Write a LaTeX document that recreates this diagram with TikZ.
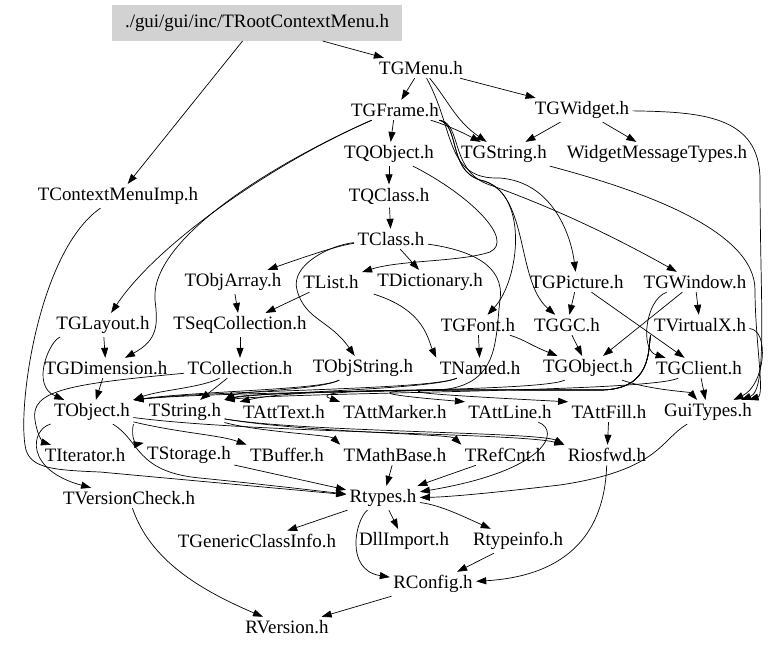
\documentclass[tikz,border=0pt]{standalone}
\usepackage{fontspec}
\setmainfont{Liberation Serif}
\usetikzlibrary{arrows.meta}
\begin{document}
\begin{tikzpicture}[x=1bp,y=1bp,
    every node/.style={font=\fontsize{19}{22}\selectfont, inner sep=2bp, outer sep=1.5bp},
    dep/.style={-{Triangle[length=10bp,width=7bp]}, line width=0.7bp},
    rootbox/.style={fill=gray!35, minimum width=289bp, minimum height=36bp, outer sep=0bp}]
  \useasboundingbox (0,0) rectangle (779,-649);
  \draw
    (257,-23) node[rootbox] (root){./gui/gui/inc/TRootContextMenu.h}
    (421,-68) node (menu){TGMenu.h}
    (395,-110) node (frame){TGFrame.h}
    (582,-110) node (widget){TGWidget.h}
    (389,-154) node (qobject){TQObject.h}
    (504,-154) node (gstring){TGString.h}
    (657,-154) node (wmt){WidgetMessageTypes.h}
    (118,-196) node (cmimp){TContextMenuImp.h}
    (389,-196) node (qclass){TQClass.h}
    (391,-239) node (tclass){TClass.h}
    (233,-282) node (objarray){TObjArray.h}
    (331,-282) node (tlist){TList.h}
    (430,-282) node (dict){TDictionary.h}
    (577,-282) node (gpicture){TGPicture.h}
    (695,-282) node (gwindow){TGWindow.h}
    (103,-325) node (glayout){TGLayout.h}
    (240,-325) node (seqcoll){TSeqCollection.h}
    (478,-325) node (gfont){TGFont.h}
    (567,-325) node (ggc){TGGC.h}
    (700,-325) node (vx){TVirtualX.h}
    (106,-368) node (gdim){TGDimension.h}
    (240,-368) node (coll){TCollection.h}
    (363,-368) node (objstring){TObjString.h}
    (480,-368) node (named){TNamed.h}
    (588,-368) node (gobject){TGObject.h}
    (699,-368) node (gclient){TGClient.h}
    (92,-412) node (tobject){TObject.h}
    (185,-412) node (tstring){TString.h}
    (284,-412) node (atttext){TAttText.h}
    (395,-412) node (attmarker){TAttMarker.h}
    (510,-412) node (attline){TAttLine.h}
    (609,-412) node (attfill){TAttFill.h}
    (708,-412) node (guitypes){GuiTypes.h}
    (85,-455) node (iter){TIterator.h}
    (189,-455) node (storage){TStorage.h}
    (287,-455) node (buffer){TBuffer.h}
    (395,-455) node (mathbase){TMathBase.h}
    (505,-455) node (refcnt){TRefCnt.h}
    (607,-455) node (riosfwd){Riosfwd.h}
    (129,-498) node (vcheck){TVersionCheck.h}
    (383,-498) node (rtypes){Rtypes.h}
    (257,-541) node (gci){TGenericClassInfo.h}
    (404,-541) node (dllimport){DllImport.h}
    (518,-541) node (rtypeinfo){Rtypeinfo.h}
    (433,-584) node (rconfig){RConfig.h}
    (287,-627) node (rversion){RVersion.h};
  \begin{scope}[dep]
    \draw (root) to (menu);
    \draw (root) to (cmimp);
    \draw (menu) to (frame);
    \draw (menu) to (widget);
    \draw (menu) .. controls (448,-100) and (455,-120) .. (gstring);
    \draw (menu) .. controls (455,-130) and (445,-180) .. (500,-178) .. controls (550,-182) and (570,-230) .. (gpicture);
    \draw (frame) .. controls (430,-120) and (448,-125) .. (gstring);
    \draw (frame) to (qobject);
    \draw (frame) .. controls (280,-160) and (160,-240) .. (glayout);
    \draw (frame) .. controls (270,-165) and (150,-240) .. (155,-300) .. controls (158,-325) and (158,-340) .. (gdim);
    \draw (frame) .. controls (460,-125) and (448,-170) .. (480,-180) .. controls (530,-190) and (520,-280) .. (gfont);
    \draw (frame) .. controls (460,-125) and (448,-170) .. (480,-180) .. controls (530,-190) and (515,-280) .. (ggc);
    \draw (frame) .. controls (462,-125) and (450,-172) .. (490,-185) .. controls (560,-210) and (620,-240) .. (gwindow);
    \draw (widget) to (gstring);
    \draw (widget) to (wmt);
    \draw (widget) .. controls (700,-112) and (760,-115) .. (760,-180) .. controls (760,-300) and (768,-390) .. (guitypes);
    \draw (gstring) .. controls (640,-190) and (755,-230) .. (755,-290) .. controls (755,-340) and (765,-395) .. (guitypes);
    \draw (qobject) to (qclass);
    \draw (qobject) .. controls (470,-195) and (515,-240) .. (490,-252) .. controls (460,-262) and (400,-260) .. (tlist);
    \draw (qclass) to (tclass);
    \draw (tclass) .. controls (340,-245) and (310,-255) .. (objarray);
    \draw (tclass) .. controls (330,-245) and (290,-265) .. (297,-290) .. controls (305,-320) and (330,-320) .. (objstring);
    \draw (tclass) to (dict);
    \draw (tclass) .. controls (470,-250) and (505,-265) .. (500,-300) .. controls (495,-340) and (500,-385) .. (440,-390) .. controls (350,-392) and (250,-393) .. (tstring.north east);
    \draw (objarray) to (seqcoll);
    \draw (tlist) to (seqcoll);
    \draw (seqcoll) to (coll);
    \draw (dict.south west) .. controls (425,-310) and (428,-340) .. (named.north west);
    \draw (gpicture) to (ggc);
    \draw (gpicture) to (gclient);
    \draw (gwindow) to (vx);
    \draw (gwindow) to (gobject);
    \draw (gwindow) .. controls (645,-300) and (640,-350) .. (gclient);
    \draw (glayout) to (gdim);
    \draw (glayout) .. controls (50,-340) and (30,-385) .. (tobject);
    \draw (gfont) .. controls (525,-340) and (530,-345) .. (gobject);
    \draw (gfont) to (named);
    \draw (ggc) to (gobject);
    \draw (vx) .. controls (770,-330) and (765,-385) .. (guitypes);
    \foreach \att in {atttext,attmarker,attline,attfill}
      \draw (vx.south west) .. controls (648,-350) and (652,-390) .. (600,-390) .. controls (450,-390) and (300,-388) .. (\att.north west);
    \draw (gdim) to (tobject);
    \draw (coll) .. controls (200,-388) and (160,-390) .. (tobject.north east);
    \draw (coll) to (tstring);
    \draw (coll) .. controls (70,-384) and (30,-390) .. (35,-420) .. controls (38,-440) and (45,-443) .. (iter);
    \draw (objstring) .. controls (320,-390) and (200,-391) .. (tobject.north east);
    \draw (objstring) .. controls (320,-390) and (240,-391) .. (tstring.north east);
    \draw (named) .. controls (430,-390) and (220,-390) .. (tobject.north east);
    \draw (named) .. controls (430,-390) and (260,-392) .. (tstring.north east);
    \draw (gobject) .. controls (540,-393) and (230,-390) .. (tobject.north east);
    \draw (gobject) .. controls (650,-390) and (690,-392) .. (guitypes);
    \draw (gclient) to (guitypes);
    \draw (gclient) .. controls (650,-392) and (300,-392) .. (tstring.north east);
    \draw (tobject) .. controls (30,-430) and (25,-470) .. (vcheck);
    \draw (tobject.south east) .. controls (130,-440) and (138,-444) .. (storage.north west);
    \draw (tobject) .. controls (180,-433) and (220,-435) .. (buffer.north west);
    \draw (tobject) .. controls (140,-440) and (135,-472) .. (200,-478) .. controls (260,-484) and (310,-490) .. (rtypes);
    \draw (tobject) .. controls (250,-433) and (520,-433) .. (riosfwd.north west);
    \draw (tstring) .. controls (260,-432) and (330,-435) .. (mathbase.north west);
    \draw (tstring) .. controls (300,-432) and (450,-434) .. (refcnt.north west);
    \draw (tstring) .. controls (300,-432) and (540,-432) .. (riosfwd.north west);
    \draw (attline) .. controls (560,-430) and (550,-470) .. (rtypes);
    \draw (attfill) to (riosfwd);
    \draw (guitypes) .. controls (660,-440) and (660,-470) .. (560,-485) .. controls (500,-492) and (450,-497) .. (rtypes);
    \draw (storage) to (rtypes);
    \draw (mathbase) to (rtypes);
    \draw (refcnt) to (rtypes);
    \draw (cmimp) .. controls (40,-250) and (18,-400) .. (25,-445) .. controls (28,-468) and (50,-470) .. (100,-472) -- (rtypes);
    \draw (rtypes) to (gci);
    \draw (rtypes) to (dllimport);
    \draw (rtypes) .. controls (440,-505) and (460,-515) .. (rtypeinfo);
    \draw (rtypes) .. controls (355,-520) and (345,-570) .. (rconfig);
    \draw (rtypeinfo) to (rconfig);
    \draw (riosfwd) .. controls (605,-520) and (580,-575) .. (rconfig);
    \draw (rconfig) to (rversion);
    \draw (vcheck) .. controls (150,-560) and (200,-590) .. (rversion);
  \end{scope}
\end{tikzpicture}
\end{document}
